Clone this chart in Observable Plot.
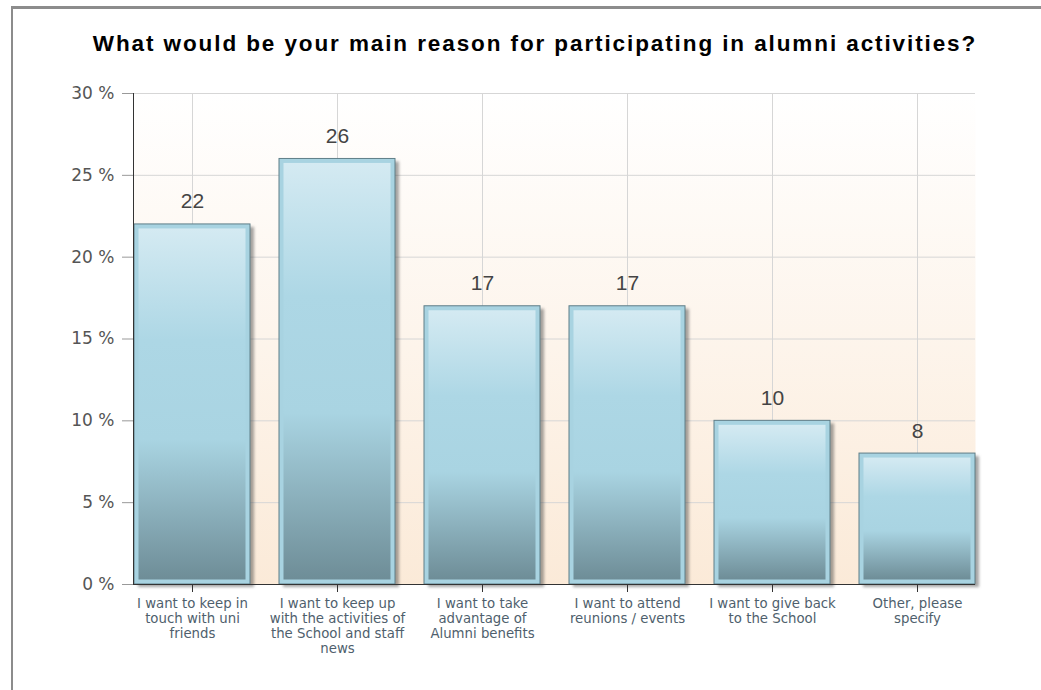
<!DOCTYPE html>
<html>
<head>
<meta charset="utf-8">
<script src="https://cdn.jsdelivr.net/npm/d3@7"></script>
<script src="https://cdn.jsdelivr.net/npm/@observablehq/plot@0.6"></script>
<style>
  html, body { margin: 0; padding: 0; background: #fff; }
  #page { position: relative; width: 1041px; height: 690px; overflow: hidden; }
  #frame { position: absolute; left: 11px; top: 6px; right: -5px; bottom: -5px;
           border-left: 2px solid #8c8c8c; border-top: 3px solid #8c8c8c; }
  #title { position: absolute; left: 30px; width: 1010px; top: 34px; text-align: center;
           font: bold 22.5px "Liberation Sans", Arial, sans-serif; line-height: 20px; color: #000;
           letter-spacing: 1.9px; white-space: nowrap; }
  #chart { position: absolute; left: 0; top: 80px; }
</style>
</head>
<body>
<svg width="0" height="0" style="position:absolute">
  <defs>
    <linearGradient id="bgGrad" x1="0" y1="0" x2="0" y2="1">
      <stop offset="0" stop-color="#ffffff"/>
      <stop offset="1" stop-color="#fbead8"/>
    </linearGradient>
    <linearGradient id="barGrad" x1="0" y1="0" x2="0" y2="1">
      <stop offset="0" stop-color="#d4eaf2"/>
      <stop offset="0.32" stop-color="#add7e5"/>
      <stop offset="0.6" stop-color="#a9d4e2"/>
      <stop offset="1" stop-color="#6e8d97"/>
    </linearGradient>
  </defs>
</svg>
<div id="page">
  <div id="frame"></div>
  <div id="title">What would be your main reason for participating in alumni activities?</div>
  <div id="chart"></div>
</div>
<script>
const categories = [
  "I want to keep in\ntouch with uni\nfriends",
  "I want to keep up\nwith the activities of\nthe School and staff\nnews",
  "I want to take\nadvantage of\nAlumni benefits",
  "I want to attend\nreunions / events",
  "I want to give back\nto the School",
  "Other, please\nspecify"
];
const values = [22, 26, 17, 17, 10, 8];
const yTicks = [0, 5, 10, 15, 20, 25, 30];

const data = categories.map((c, i) => ({category: c, value: values[i]}));
const font = "'DejaVu Sans', Verdana, sans-serif";

const plot = Plot.plot({
  width: 1041,
  height: 610,
  marginTop: 13,
  marginBottom: 106,
  marginLeft: 133,
  marginRight: 66,
  style: {fontFamily: font, background: "transparent", overflow: "visible"},
  x: {domain: categories, paddingInner: 0.2, paddingOuter: 0, align: 0.5},
  y: {domain: [0, 30]},
  marks: [
    Plot.frame({fill: "url(#bgGrad)", stroke: null}),
    Plot.gridY(yTicks, {stroke: "#d6d6d6", strokeOpacity: 1}),
    Plot.gridX({stroke: "#d6d6d6", strokeOpacity: 1}),
    // shadow
    Plot.barY(data, {x: "category", y: "value", fill: "#3a3a3a", fillOpacity: 0.45, dx: 4, dy: 3, imageFilter: "blur(1.6px)"}),
    // outer bar with light border
    Plot.barY(data, {x: "category", y: "value", fill: "#a8d3e1", stroke: "#5f7e88", strokeWidth: 1}),
    // inner gradient
    Plot.barY(data, {x: "category", y: "value", fill: "url(#barGrad)", inset: 4.5}),
    Plot.text(data, {x: "category", y: "value", text: d => String(d.value), dy: -16, lineAnchor: "bottom",
      fontSize: 21, fontFamily: "'Liberation Sans', Arial, sans-serif", fill: "#444"}),
    Plot.frame({anchor: "left", stroke: "#333"}),
    Plot.ruleY([0], {stroke: "#333"}),
    Plot.axisY({ticks: yTicks, tickSize: 11, tickPadding: 8, stroke: "#999", fill: "#555",
      fontSize: 17, tickFormat: d => d + " %", label: null}),
    Plot.axisX({tickSize: 8, tickPadding: 5, stroke: "#333", fill: "#4f5f6d", fontSize: 13.3,
      lineHeight: 1.13, label: null, textOverflow: null, lineWidth: Infinity})
  ]
});
document.getElementById("chart").append(plot);
</script>
</body>
</html>
